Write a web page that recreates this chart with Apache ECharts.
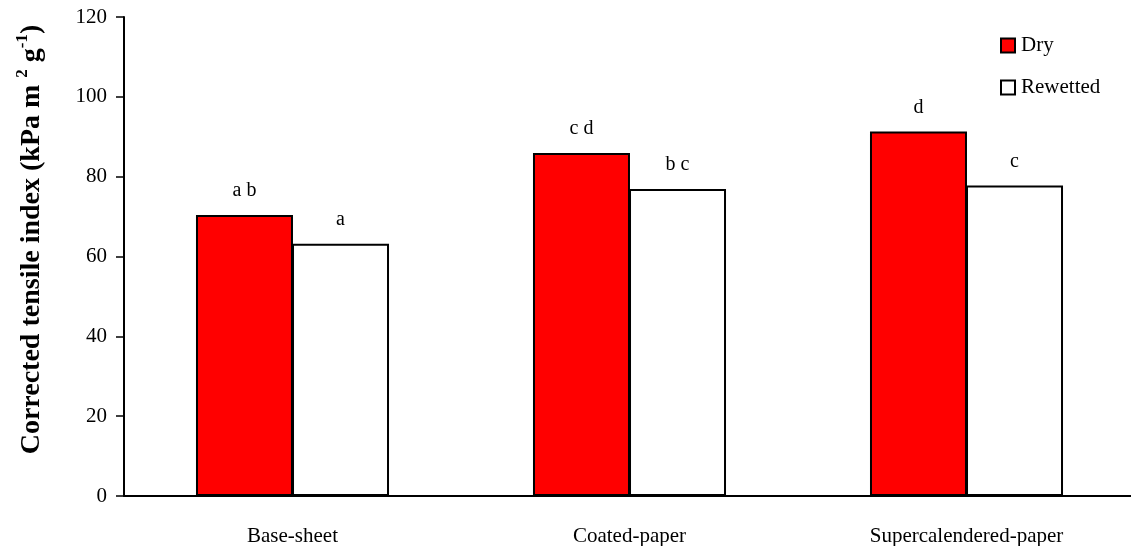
<!DOCTYPE html>
<html>
<head>
<meta charset="utf-8">
<script src="https://cdn.jsdelivr.net/npm/echarts@6/dist/echarts.min.js"></script>
<style>
  html, body { margin: 0; padding: 0; background: #fff; }
  #chart { width: 1131px; height: 546px; }
</style>
</head>
<body>
<div id="chart"></div>
<script>
// Paper grades
const categories = ['Base-sheet', 'Coated-paper', 'Supercalendered-paper'];
// Corrected tensile index (kPa m2 g-1)
const dryValues = [70.4, 85.9, 91.3];
const rewettedValues = [63.2, 76.9, 77.8];
// Significance groupings shown above the bars
const dryLetters = ['a b', 'c d', 'd'];
const rewettedLetters = ['a', 'b c', 'c'];
// Y axis ticks
const yMin = 0, yMax = 120, yStep = 20;

const serif = '"Liberation Serif", "Times New Roman", serif';

const chart = echarts.init(document.getElementById('chart'));

function letterLabel(letters) {
  return {
    show: true,
    position: 'top',
    distance: 14,
    fontFamily: serif,
    fontSize: 20,
    color: '#000',
    formatter: p => letters[p.dataIndex]
  };
}

chart.setOption({
  animation: false,
  backgroundColor: '#fff',
  textStyle: { fontFamily: serif },
  grid: { left: 124, right: -4, top: 17, bottom: 50, containLabel: false, outerBoundsMode: 'none' },
  legend: {
    orient: 'vertical',
    left: 995,
    top: 30,
    itemWidth: 14,
    itemHeight: 14,
    itemGap: 21,
    icon: 'rect',
    textStyle: { fontFamily: serif, fontSize: 21, color: '#000', padding: [0, 0, 0, 1] },
    data: ['Dry', 'Rewetted']
  },
  xAxis: {
    type: 'category',
    data: categories,
    axisLine: { show: true, lineStyle: { color: '#000', width: 2 } },
    axisTick: { show: false },
    axisLabel: { color: '#000', fontFamily: serif, fontSize: 21, margin: 30 }
  },
  yAxis: {
    type: 'value',
    min: yMin,
    max: yMax,
    interval: yStep,
    splitLine: { show: false },
    axisLine: { show: true, lineStyle: { color: '#000', width: 2 } },
    axisTick: { show: true, inside: false, length: 8, lineStyle: { color: '#000', width: 1.5 } },
    axisLabel: { color: '#000', fontFamily: serif, fontSize: 21, margin: 17 },
    name: '{b|Corrected tensile index (kPa m }{s|2}{b| g}{s|-1}{b|)}',
    nameLocation: 'middle',
    nameGap: 78,
    nameRotate: 90,
    nameTextStyle: {
      padding: [0, 0, 0, 34],
      rich: {
        b: { fontFamily: serif, fontSize: 28, fontWeight: 'bold', color: '#000', lineHeight: 32, verticalAlign: 'bottom' },
        s: { fontFamily: serif, fontSize: 17, fontWeight: 'bold', color: '#000', lineHeight: 32, verticalAlign: 'top' }
      }
    }
  },
  series: [
    {
      name: 'Dry',
      type: 'bar',
      data: dryValues,
      barWidth: 97,
      barGap: '-1%',
      itemStyle: { color: '#ff0000', borderColor: '#000', borderWidth: 2 },
      label: letterLabel(dryLetters)
    },
    {
      name: 'Rewetted',
      type: 'bar',
      data: rewettedValues,
      barWidth: 97,
      barGap: '-1%',
      itemStyle: { color: '#ffffff', borderColor: '#000', borderWidth: 2 },
      label: letterLabel(rewettedLetters)
    }
  ]
});
</script>
</body>
</html>
